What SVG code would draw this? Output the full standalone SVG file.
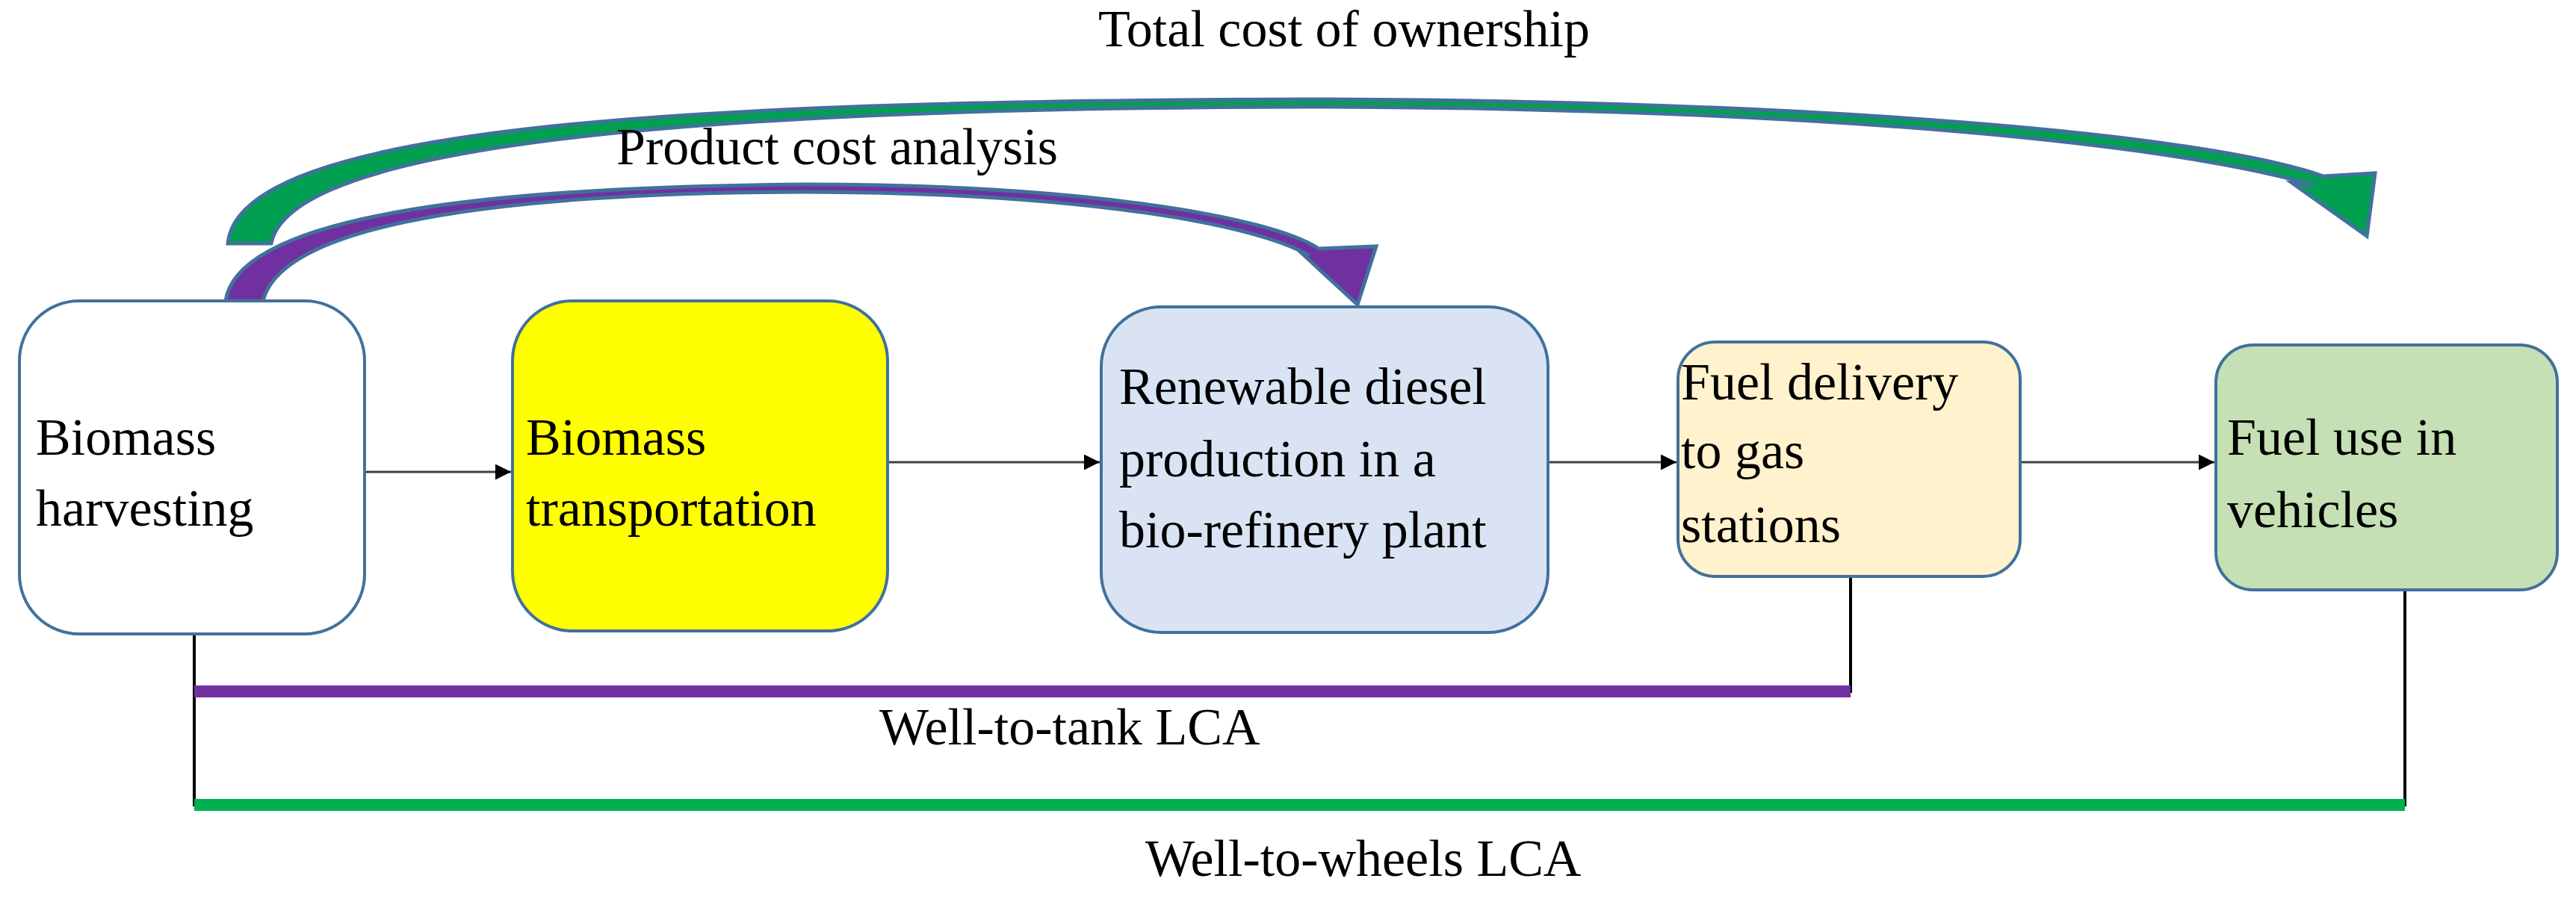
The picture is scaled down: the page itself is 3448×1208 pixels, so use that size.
<svg xmlns="http://www.w3.org/2000/svg" width="3448" height="1208" viewBox="0 0 3448 1208">
<defs>
<style>
.box{stroke:#41719c;stroke-width:4}
text{font-family:"Liberation Serif","Times New Roman",serif;font-size:70px;fill:#000}
.flow{stroke:#404040;stroke-width:3;fill:none;marker-end:url(#ah)}
.thin{stroke:#000;stroke-width:4;fill:none}
</style>
<marker id="ah" viewBox="0 0 10 10" refX="10" refY="5" markerWidth="7" markerHeight="7" orient="auto" markerUnits="strokeWidth"><path d="M0,0 L10,5 L0,10 z" fill="#000"/></marker>
</defs>
<rect width="3448" height="1208" fill="#fff"/>
<g id="connectors">
<path d="M305 326 C320 170 900 135 1750 133 C2450 135 2950 180 3110 236 L3179 232 L3168 316 L3068 245 L3098 248 C2900 192 2450 145 1750 143 C950 145 390 190 363 326 Z" fill="#00a050" stroke="#41719c" stroke-width="5" stroke-linejoin="miter"/>
<path d="M302 403 C320 280 700 250 1078 247 C1450 247 1700 290 1765 333 L1842 330 L1817 408 L1738 335 L1752 342 C1680 300 1450 258 1078 257 C720 258 380 290 352 403 Z" fill="#7030a0" stroke="#41719c" stroke-width="5"/>
<line class="flow" x1="488" y1="632" x2="684" y2="632"/>
<line class="flow" x1="1188" y1="619" x2="1472" y2="619"/>
<line class="flow" x1="2072" y1="619" x2="2244" y2="619"/>
<line class="flow" x1="2704" y1="619" x2="2964" y2="619"/>
<line class="thin" x1="260" y1="849" x2="260" y2="1080"/>
<line class="thin" x1="2477" y1="772" x2="2477" y2="928"/>
<line class="thin" x1="3219" y1="790" x2="3219" y2="1080"/>
<line x1="260" y1="926" x2="2477" y2="926" stroke="#7030a0" stroke-width="16"/>
<line x1="260" y1="1078" x2="3219" y2="1078" stroke="#00b050" stroke-width="16"/>
</g>
<g id="n1"><rect class="box" x="26" y="403" width="462" height="446" rx="80" fill="#fff"/>
<text x="48" y="609">Biomass</text><text x="48" y="704">harvesting</text></g>
<g id="n2"><rect class="box" x="686" y="403" width="502" height="442" rx="80" fill="#ffff00"/>
<text x="704" y="609">Biomass</text><text x="704" y="704">transportation</text></g>
<g id="n3"><rect class="box" x="1474" y="411" width="598" height="436" rx="80" fill="#dae3f3"/>
<text x="1498" y="541">Renewable diesel</text><text x="1498" y="638">production  in a</text><text x="1498" y="733">bio-refinery  plant</text></g>
<g id="n4"><rect class="box" x="2246" y="458" width="458" height="314" rx="50" fill="#fff2cc"/>
<text x="2250" y="535">Fuel delivery</text><text x="2250" y="627">to gas</text><text x="2250" y="726">stations</text></g>
<g id="n5"><rect class="box" x="2966" y="462" width="457" height="328" rx="50" fill="#c5e0b4"/>
<text x="2981" y="609">Fuel use in</text><text x="2981" y="706">vehicles</text></g>
<g id="labels">
<text x="1470" y="62">Total cost of ownership</text>
<text x="825" y="220">Product  cost  analysis</text>
<text x="1177" y="997">Well-to-tank   LCA</text>
<text x="1533" y="1173">Well-to-wheels   LCA</text>
</g>
</svg>
